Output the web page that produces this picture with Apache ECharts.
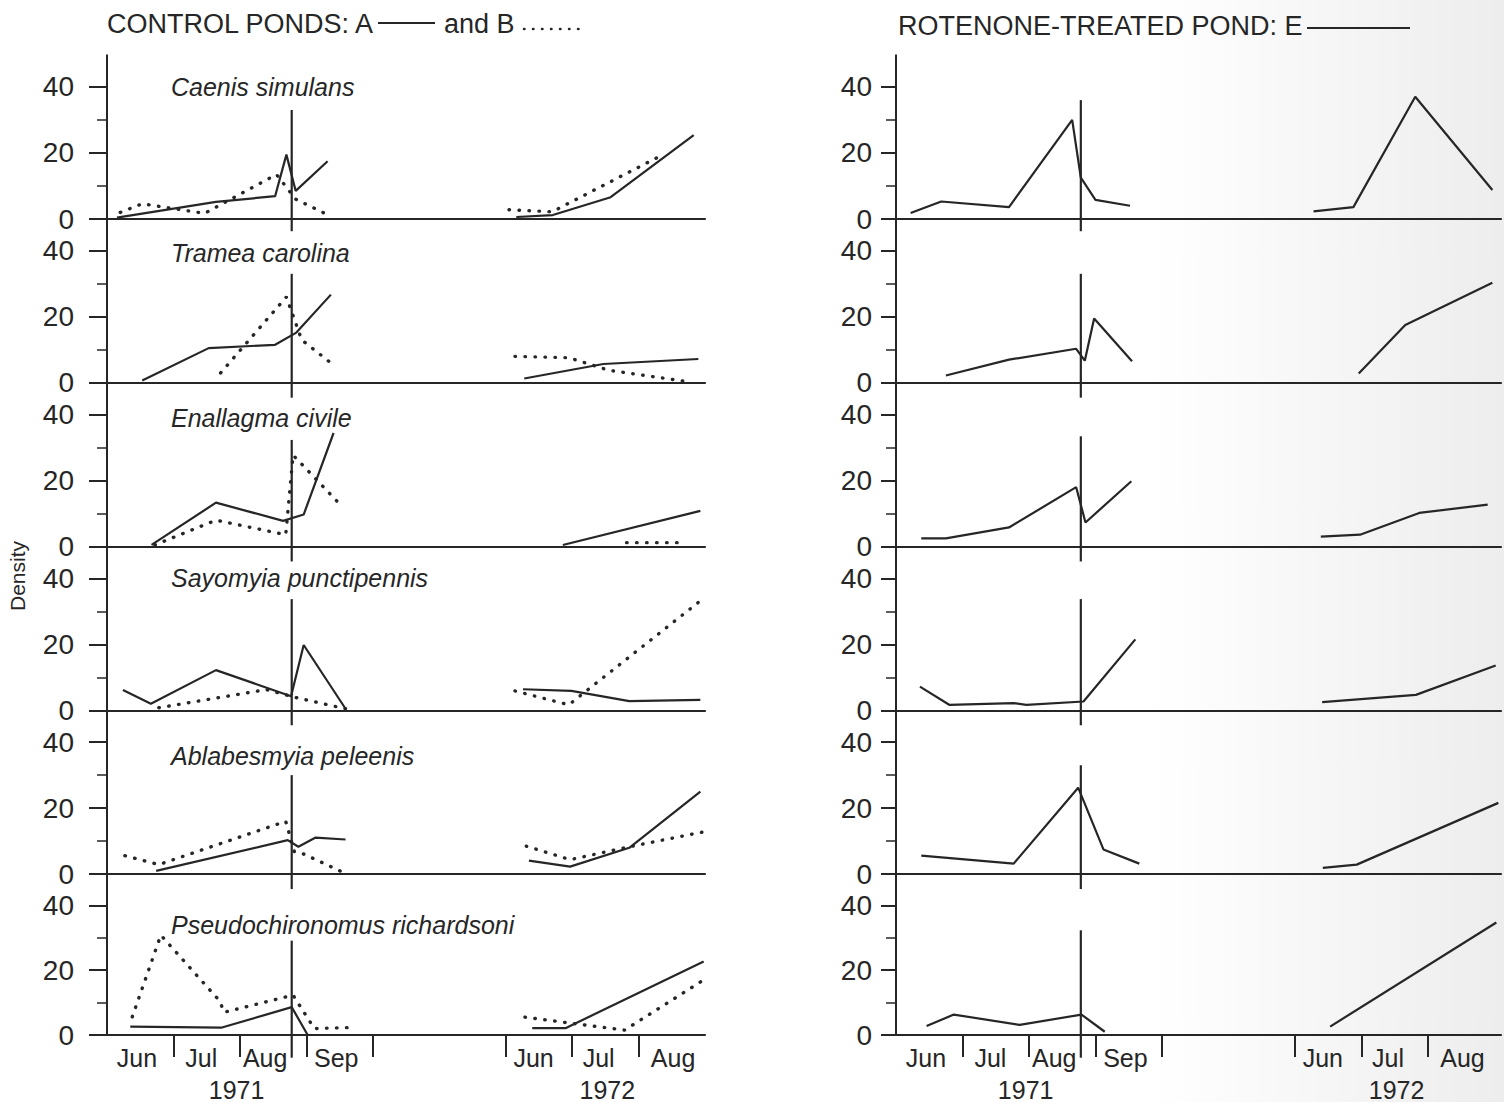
<!DOCTYPE html>
<html>
<head>
<meta charset="utf-8">
<script src="https://cdn.jsdelivr.net/npm/echarts@6/dist/echarts.min.js"></script>
<style>html,body{margin:0;padding:0;background:#fff}#c{width:1504px;height:1102px}</style>
</head>
<body>
<div id="c"></div>
<script>
// ---------------- DATA ----------------
// x unit: months since 1 June 1971 (plotted axis; 1972 season drawn from 6 = 1 June 1972)
const SPECIES = ['Caenis simulans', 'Tramea carolina', 'Enallagma civile',
  'Sayomyia punctipennis', 'Ablabesmyia peleenis', 'Pseudochironomus richardsoni'];
const MONTH_TICKS = [1, 2, 3, 4, 6, 7, 8];
const MONTH_LABELS = ['Jun', 'Jul', 'Aug', 'Sep', 'Jun', 'Jul', 'Aug'];
const MONTH_LABEL_POS = [0.45, 1.42, 2.38, 3.45, 6.42, 7.4, 8.52];
const YEAR_LABELS = ['1971', '1972'];
const YEAR_LABEL_POS = [1.95, 7.53];
const Y_LABEL_TICKS = [0, 20, 40];
const Y_MINOR_TICKS = [10, 30];
const TREATMENT_X = 2.78;
const TREAT_TOP_CONTROL = [33, 33, 32.3, 33.7, 30, 29.1];
const TREAT_TOP_TREATED = [36, 33, 33.4, 33.7, 33, 32.3];
const TREAT_BOTTOM = [-3.7, -4.5, -4.5, -4.5, -4.5, -7];

// Control pond A (solid)
const pondA_1971 = [
  [[0.15,0.4],[1.64,5.2],[2.53,6.9],[2.7,19.5],[2.84,8.5],[3.32,17.5]],
  [[0.53,0.7],[1.53,10.5],[2.53,11.5],[2.85,15.2],[3.37,26.7]],
  [[0.67,0.5],[1.64,13.3],[2.65,7.8],[2.96,9.7],[3.41,34.4]],
  [[0.24,6.2],[0.66,2],[1.64,12.2],[2.77,4.3],[2.96,19.8],[3.59,0.5]],
  [[0.74,1],[2.72,10.3],[2.88,8.3],[3.14,11.1],[3.59,10.5]],
  [[0.35,2.6],[1.73,2.3],[2.78,8.6],[3.02,0]]
];
const pondA_1972 = [
  [[6.16,0.6],[6.71,1.2],[7.58,6.6],[8.83,25.4]],
  [[6.28,1.3],[7.47,5.7],[8.9,7.2]],
  [[6.86,0.5],[8.93,10.8]],
  [[6.26,6.4],[6.99,5.9],[7.86,2.8],[8.93,3.2]],
  [[6.35,4.1],[6.97,2.3],[7.86,8],[8.93,25]],
  [[6.4,2.1],[6.9,2.1],[8.98,22.7]]
];
// Control pond B (dotted)
const pondB_1971 = [
  [[0.2,2],[0.53,4.6],[1.47,1.7],[2.55,13.5],[2.84,6],[3.33,1.2]],
  [[1.71,3],[2.7,26],[2.93,13],[3.37,6]],
  [[0.72,0.5],[1.64,8],[2.69,3.6],[2.8,27.7],[3.53,12.3]],
  [[0.78,0.8],[2.4,6.3],[2.82,4],[3.59,0.5]],
  [[0.27,5.6],[0.78,2.9],[2.69,16],[2.82,6.8],[2.95,6.2],[3.59,0.2]],
  [[0.38,5.6],[0.81,30.8],[1.7,10.4],[1.76,7],[2.8,12.3],[3.12,2],[3.64,2.3]]
];
const pondB_1972 = [
  [[6.05,2.8],[6.7,2.2],[8.35,19.3]],
  [[6.14,8],[6.95,7.6],[7.55,3.8],[8.75,0.3]],
  [[7.82,1.2],[8.65,1.2]],
  [[6.14,5.9],[6.95,1.7],[8.9,32.7]],
  [[6.31,8.5],[6.97,4.4],[7.86,8.3],[9.0,12.9]],
  [[6.29,5.5],[6.92,3.8],[7.79,1.5],[8.98,17]]
];
// Rotenone-treated pond E (solid)
const pondE_1971 = [
  [[0.22,1.8],[0.68,5.3],[1.7,3.6],[2.65,30],[2.78,12.5],[3.0,5.8],[3.52,4]],
  [[0.75,2.2],[1.7,7],[2.71,10.3],[2.84,6.7],[2.98,19.5],[3.55,6.5]],
  [[0.38,2.5],[0.75,2.5],[1.7,5.8],[2.71,18],[2.85,7.3],[3.54,19.8]],
  [[0.36,7.2],[0.8,1.7],[1.77,2.2],[1.96,1.7],[2.82,2.7],[3.6,21.5]],
  [[0.38,5.6],[1.77,3.2],[2.74,26.2],[3.12,7.5],[3.66,3.2]],
  [[0.46,2.8],[0.87,6.3],[1.86,3.1],[2.79,6.3],[3.14,1]]
];
const pondE_1972 = [
  [[6.28,2.3],[6.88,3.6],[7.81,37],[8.97,8.8]],
  [[6.96,2.8],[7.66,17.5],[8.97,30.3]],
  [[6.39,3],[6.98,3.6],[7.87,10.2],[8.9,12.7]],
  [[6.41,2.5],[7.82,4.7],[9.02,13.6]],
  [[6.42,1.9],[6.93,2.9],[9.06,21.6]],
  [[6.53,2.6],[9.03,34.7]]
];

// ---------------- LAYOUT / STYLE ----------------
const FONT = '"Liberation Sans", Arial, Helvetica, sans-serif';
const INK = '#262626';
const ROW0 = 55.2, ROWH = 163.8, YMAX = 49.6;
const PANELS = [
  { left: 107, width: 598, xmax: 9.0, labelMargin: 33, tickLen: 18, labelX: 171,
    lines: [{ d71: pondA_1971, d72: pondA_1972, dotted: false }, { d71: pondB_1971, d72: pondB_1972, dotted: true }],
    tops: TREAT_TOP_CONTROL },
  { left: 896, width: 605, xmax: 9.1, labelMargin: 24, tickLen: 15, labelX: null,
    lines: [{ d71: pondE_1971, d72: pondE_1972, dotted: false }],
    tops: TREAT_TOP_TREATED }
];
const SPECIES_LABEL_Y = [87, 253, 418, 578, 756, 925];

function pick(pos, labels, v) {
  let best = 0, bd = Infinity;
  pos.forEach((p, i) => { const d = Math.abs(p - v); if (d < bd) { bd = d; best = i; } });
  return bd < 0.01 ? labels[best] : '';
}

const grids = [], xAxes = [], yAxes = [], series = [];
PANELS.forEach((p) => {
  for (let r = 0; r < 6; r++) {
    const gi = grids.length;
    grids.push({ left: p.left, width: p.width, top: ROW0 + ROWH * r, height: ROWH });
    const bottom = r === 5;
    const xi = xAxes.length;
    xAxes.push({
      type: 'value', gridIndex: gi, min: 0, max: p.xmax,
      axisLine: { show: true, onZero: false, lineStyle: { color: INK, width: 2.2 } },
      axisTick: bottom ? { show: true, customValues: MONTH_TICKS, length: 22, lineStyle: { color: INK, width: 2 } } : { show: false },
      axisLabel: bottom ? {
        show: true, customValues: MONTH_LABEL_POS, formatter: v => pick(MONTH_LABEL_POS, MONTH_LABELS, v),
        fontSize: 25, color: INK, fontFamily: FONT, margin: 10
      } : { show: false },
      splitLine: { show: false }
    });
    if (bottom) {
      xAxes.push({
        type: 'value', gridIndex: gi, min: 0, max: p.xmax, position: 'bottom', offset: 32,
        axisLine: { show: false }, axisTick: { show: false }, splitLine: { show: false },
        axisLabel: { show: true, customValues: YEAR_LABEL_POS, formatter: v => pick(YEAR_LABEL_POS, YEAR_LABELS, v),
          fontSize: 25, color: INK, fontFamily: FONT, margin: 10 }
      });
    }
    const yi = yAxes.length;
    yAxes.push({
      type: 'value', gridIndex: gi, min: 0, max: YMAX, position: 'left',
      axisLine: { show: true, lineStyle: { color: INK, width: 2 } },
      axisTick: { show: true, customValues: Y_LABEL_TICKS, length: p.tickLen, lineStyle: { color: INK, width: 2 } },
      axisLabel: { show: true, customValues: Y_LABEL_TICKS, fontSize: 28, color: INK, fontFamily: FONT, margin: p.labelMargin },
      splitLine: { show: false }
    });
    yAxes.push({
      type: 'value', gridIndex: gi, min: 0, max: YMAX, position: 'left', offset: 0,
      axisLine: { show: false },
      axisTick: { show: true, customValues: Y_MINOR_TICKS, length: 10, lineStyle: { color: INK, width: 1.5 } },
      axisLabel: { show: false }, splitLine: { show: false }
    });
    p.lines.forEach(L => {
      [L.d71[r], L.d72[r]].forEach(d => {
        series.push({
          type: 'line', xAxisIndex: xi, yAxisIndex: yi, data: d, symbol: 'none', silent: true,
          lineStyle: L.dotted ? { color: INK, width: 3.4, type: [0.5, 9.5], cap: 'round' } : { color: INK, width: 2.2 },
          z: 3
        });
      });
    });
    series.push({
      type: 'line', xAxisIndex: xi, yAxisIndex: yi, clip: false, symbol: 'none', silent: true,
      data: [[TREATMENT_X, p.tops[r]], [TREATMENT_X, TREAT_BOTTOM[r]]],
      lineStyle: { color: INK, width: 2.2 }, z: 4
    });
  }
});

const graphic = [
  { type: 'rect', z: -10, shape: { x: 1150, y: 0, width: 354, height: 1102 }, silent: true,
    style: { fill: new echarts.graphic.LinearGradient(0, 0, 1, 0, [
      { offset: 0, color: 'rgba(225,225,225,0)' }, { offset: 1, color: 'rgba(225,225,225,0.6)' }]) } },
  { type: 'text', x: 107, y: 24, style: { text: 'CONTROL PONDS: A', fontSize: 27, fontFamily: FONT, fill: INK, textVerticalAlign: 'middle' } },
  { type: 'line', shape: { x1: 378, y1: 23, x2: 435, y2: 23 }, style: { stroke: INK, lineWidth: 2 } },
  { type: 'text', x: 444, y: 24, style: { text: 'and B', fontSize: 27, fontFamily: FONT, fill: INK, textVerticalAlign: 'middle' } },
  { type: 'line', shape: { x1: 524, y1: 29, x2: 580, y2: 29 }, style: { stroke: INK, lineWidth: 2.5, lineDash: [0.5, 8.5], lineCap: 'round' } },
  { type: 'text', x: 898, y: 26, style: { text: 'ROTENONE-TREATED POND: E', fontSize: 27, fontFamily: FONT, fill: INK, textVerticalAlign: 'middle' } },
  { type: 'line', shape: { x1: 1307, y1: 28, x2: 1410, y2: 28 }, style: { stroke: INK, lineWidth: 2 } },
  { type: 'text', x: 17, y: 576, rotation: Math.PI / 2, style: { text: 'Density', fontSize: 21, fontFamily: FONT, fill: INK, textAlign: 'center', textVerticalAlign: 'middle' } }
];
SPECIES.forEach((s, i) => {
  graphic.push({ type: 'text', x: PANELS[0].labelX, y: SPECIES_LABEL_Y[i],
    style: { text: s, fontSize: 25, fontStyle: 'italic', fontFamily: FONT, fill: INK, textVerticalAlign: 'middle' } });
});

const chart = echarts.init(document.getElementById('c'), null, { renderer: 'svg', width: 1504, height: 1102 });
chart.setOption({
  backgroundColor: '#ffffff',
  animation: false,
  grid: grids, xAxis: xAxes, yAxis: yAxes, series: series, graphic: graphic
});
</script>
</body>
</html>
